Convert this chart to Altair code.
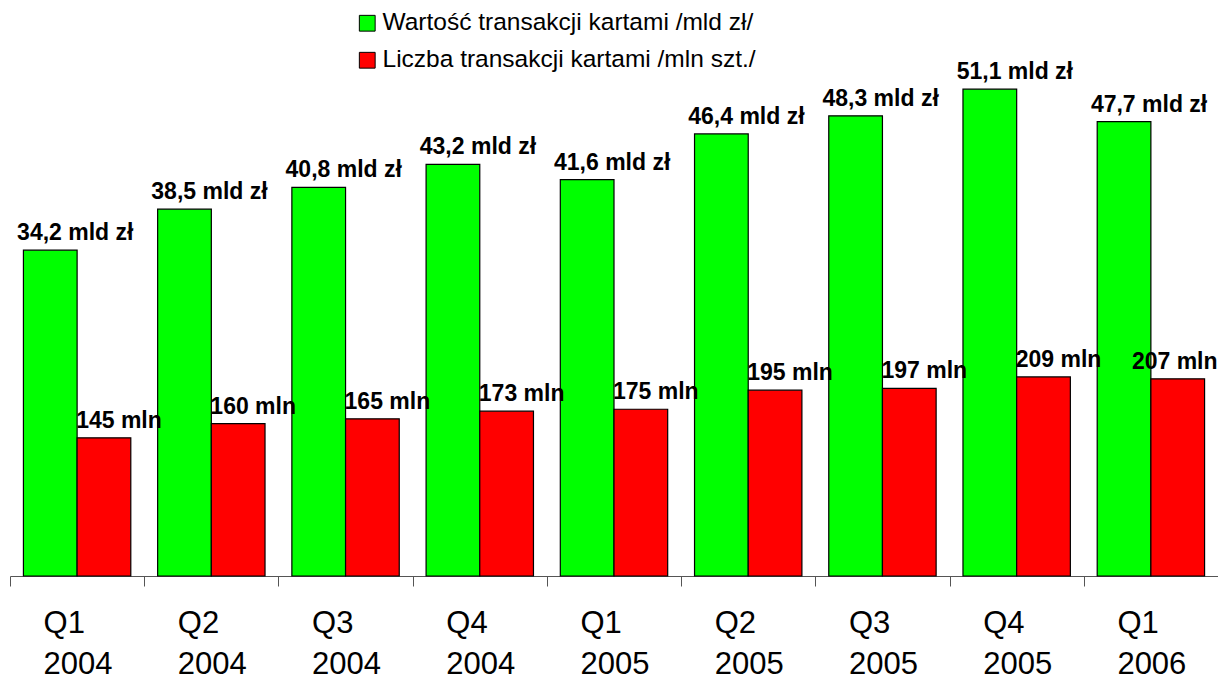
import altair as alt
import pandas as pd

quarters = ["Q1 2004", "Q2 2004", "Q3 2004", "Q4 2004", "Q1 2005",
            "Q2 2005", "Q3 2005", "Q4 2005", "Q1 2006"]
value_bn = [34.2, 38.5, 40.8, 43.2, 41.6, 46.4, 48.3, 51.1, 47.7]
count_mn = [145, 160, 165, 173, 175, 195, 197, 209, 207]
series = ["Wartość transakcji kartami /mld zł/", "Liczba transakcji kartami /mln szt./"]

val_df = pd.DataFrame({
    "quarter": quarters, "series": series[0], "value": value_bn,
    "label": [f"{v:.1f}".replace(".", ",") + " mld zł" for v in value_bn],
})
cnt_df = pd.DataFrame({
    "quarter": quarters, "series": series[1], "value": count_mn,
    "label": [f"{v} mln" for v in count_mn],
})
df = pd.concat([val_df, cnt_df], ignore_index=True)

FONT = "Liberation Sans"

x_enc = alt.X(
    "quarter:N", sort=quarters,
    scale=alt.Scale(domain=quarters, paddingInner=0, paddingOuter=0, round=False),
    axis=alt.Axis(
        title=None, tickBand="extent",
        labelExpr="split(datum.label, ' ')",
        labelAlign="left", labelBaseline="top", labelOffset=-34,
        labelFont=FONT, labelFontSize=31, labelLineHeight=41,
        labelColor="black", labelPadding=22, labelAngle=0,
        tickSize=10, tickColor="#555555", domainColor="#555555",
        domainWidth=1, tickWidth=1, grid=False,
    ),
)
xo_enc = alt.XOffset(
    "series:N", sort=series,
    scale=alt.Scale(domain=series, paddingInner=0, paddingOuter=0.25, round=False),
)
color_enc = alt.Color(
    "series:N", sort=series,
    scale=alt.Scale(domain=series, range=["#00FF00", "#FF0000"]),
    legend=alt.Legend(
        title=None, orient="none", legendX=345, legendY=-41,
        direction="vertical", symbolType="square", symbolSize=250,
        symbolStrokeColor="black", symbolStrokeWidth=1,
        labelFont=FONT, labelFontSize=24.5, labelColor="black",
        labelLimit=0, rowPadding=12, padding=0, labelOffset=3,
    ),
)

base = alt.Chart(df)

y_val = alt.Y("value:Q", scale=alt.Scale(domain=[0, 55]), axis=None)
y_cnt = alt.Y("value:Q", scale=alt.Scale(domain=[0, 550]), axis=None)

green_bars = base.transform_filter(alt.datum.series == series[0]).mark_bar(
    stroke="black", strokeWidth=1.2
).encode(x=x_enc, xOffset=xo_enc, y=y_val, color=color_enc)

green_text = base.transform_filter(alt.datum.series == series[0]).mark_text(
    dx=25, dy=-10, baseline="alphabetic", align="center",
    font=FONT, fontSize=23, fontWeight="bold", color="black",
).encode(x=x_enc, xOffset=xo_enc, y=y_val, text="label:N")

red_bars = base.transform_filter(alt.datum.series == series[1]).mark_bar(
    stroke="black", strokeWidth=1.2
).encode(x=x_enc, xOffset=xo_enc, y=y_cnt, color=color_enc)

red_text = base.transform_filter(
    (alt.datum.series == series[1]) & (alt.datum.quarter != quarters[-1])
).mark_text(
    dx=15, dy=-10, baseline="alphabetic", align="center",
    font=FONT, fontSize=23, fontWeight="bold", color="black",
).encode(x=x_enc, xOffset=xo_enc, y=y_cnt, text="label:N")

red_text_last = base.transform_filter(
    (alt.datum.series == series[1]) & (alt.datum.quarter == quarters[-1])
).mark_text(
    dx=-3, dy=-10, baseline="alphabetic", align="center",
    font=FONT, fontSize=23, fontWeight="bold", color="black",
).encode(x=x_enc, xOffset=xo_enc, y=y_cnt, text="label:N")

green = alt.layer(green_bars, green_text)
red = alt.layer(red_bars, red_text, red_text_last)

chart = alt.layer(green, red).resolve_scale(y="independent").properties(
    width=1208, height=524,
    autosize=alt.AutoSizeParams(type="none"),
    padding={"left": 2, "top": 44, "right": 0, "bottom": 110},
).configure(background="white").configure_view(stroke=None)

chart.save("out.html", embed_options={"renderer": "svg", "actions": False})
